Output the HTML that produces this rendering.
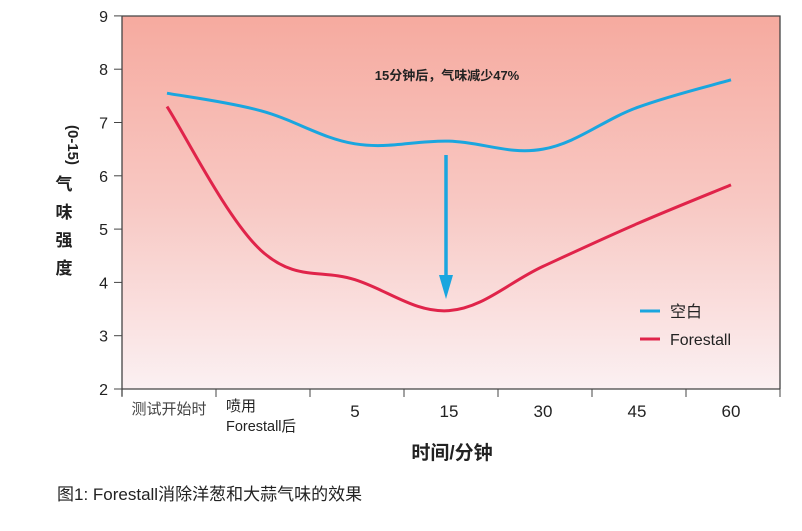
<!DOCTYPE html>
<html><head><meta charset="utf-8"><style>
body{margin:0;background:#fff;width:802px;height:526px;overflow:hidden;font-family:"Liberation Sans","Noto Sans CJK SC",sans-serif;}
</style></head><body>
<svg width="802" height="526" xmlns="http://www.w3.org/2000/svg" font-family="Liberation Sans, Noto Sans CJK SC, sans-serif">
<defs><linearGradient id="bg" x1="0" y1="0" x2="0" y2="1"><stop offset="0" stop-color="#f6aa9f"/><stop offset="0.5" stop-color="#f8c8c3"/><stop offset="1" stop-color="#fbf0f2"/></linearGradient></defs>
<rect x="122" y="16" width="658" height="373" fill="url(#bg)"/>
<g id="axes"></g>
<g id="series"></g>
<text x="447" y="80" font-size="13" font-weight="bold" text-anchor="middle" fill="#222">15分钟后，气味减少47%</text>
<g>
<line x1="446" y1="155" x2="446" y2="285" stroke="#1aa6df" stroke-width="3.5"/>
<polygon points="439,275 453,275 446,299" fill="#1aa6df"/>
</g>
<g>
<line x1="640" y1="311" x2="660" y2="311" stroke="#1aa6df" stroke-width="3"/>
<text x="670" y="317" font-size="16" fill="#222">空白</text>
<line x1="640" y1="339" x2="660" y2="339" stroke="#e0244a" stroke-width="3"/>
<text x="670" y="345" font-size="16" fill="#222" textLength="61" lengthAdjust="spacingAndGlyphs">Forestall</text>
</g>
<g font-size="17" font-weight="bold" fill="#222" text-anchor="middle">
<text x="68" y="145" transform="rotate(90 68 145)" font-size="15">(0-15)</text>
<text x="64" y="190">气</text><text x="64" y="218">味</text><text x="64" y="246">强</text><text x="64" y="274">度</text>
</g>
<text x="452" y="459" font-size="19" font-weight="bold" text-anchor="middle" fill="#222">时间/分钟</text>
<text x="57" y="500" font-size="17" fill="#222">图1: Forestall消除洋葱和大蒜气味的效果</text>
</svg>
<script>
const categories=["测试开始时","喷用Forestall后","5","15","30","45","60"];
const yTicks=[2,3,4,5,6,7,8,9];
const blankValues=[7.55,7.22,6.6,6.65,6.5,7.28,7.8];
const forestallValues=[7.3,4.6,4.05,3.47,4.3,5.1,5.83];
const X0=122,BW=94,Y0=389,YS=53.3;
const xs=i=>X0+BW*(i+0.5)-2;
const ys=v=>Y0-(v-2)*YS;
const NS="http://www.w3.org/2000/svg";
const ax=document.getElementById('axes');
function mk(t,a,p){const e=document.createElementNS(NS,t);for(const k in a)e.setAttribute(k,a[k]);p.appendChild(e);return e;}
const frame=mk('path',{d:`M${X0} 16H780V389M${X0} 16V396M${X0} 389H780`,fill:'none',stroke:'#444','stroke-width':1.3},ax);


yTicks.forEach(v=>{
 const l=mk('line',{x1:X0-8,x2:X0,y1:ys(v),y2:ys(v),stroke:'#444'},ax);
 
 
 const t=mk('text',{x:X0-14,y:ys(v)+6,'font-size':16,'text-anchor':'end',fill:'#222'},ax);
 t.textContent=v;
 
 
});
for(let i=0;i<=categories.length;i++){
 const l=mk('line',{x1:X0+BW*i,x2:X0+BW*i,y1:389,y2:397,stroke:'#444'},ax);
 
 
}
categories.forEach((c,i)=>{
 const cx=X0+BW*(i+0.5);
 let t;
 if(i===1){
  t=mk('text',{x:X0+BW+10,y:411,'font-size':15,fill:'#222'},ax);
  t.textContent='喷用';
  const t2=mk('text',{x:X0+BW+10,y:431,'font-size':15,fill:'#222',textLength:70,lengthAdjust:'spacingAndGlyphs'},ax);
  t2.textContent='Forestall后';
  
  
 } else if(i===0){
  t=mk('text',{x:cx,y:414,'font-size':15,'text-anchor':'middle',fill:'#444'},ax);
  t.textContent=c;
 } else {
  t=mk('text',{x:cx-2,y:417,'font-size':17,'text-anchor':'middle',fill:'#222'},ax);
  t.textContent=c;
 }
 
 
});
function smooth(vals){
 const p=vals.map((v,i)=>[xs(i),ys(v)]);
 let d=`M${p[0][0]},${p[0][1]}`;
 for(let i=0;i<p.length-1;i++){
  const a=p[Math.max(i-1,0)],b=p[i],c=p[i+1],e=p[Math.min(i+2,p.length-1)];
  const t=0.18;
  d+=` C${b[0]+(c[0]-a[0])*t},${b[1]+(c[1]-a[1])*t} ${c[0]-(e[0]-b[0])*t},${c[1]-(e[1]-b[1])*t} ${c[0]},${c[1]}`;
 }
 return d;
}
const sg=document.getElementById('series');
const bl=mk('path',{d:smooth(blankValues),fill:'none',stroke:'#1aa6df','stroke-width':3},sg);


const rl=mk('path',{d:smooth(forestallValues),fill:'none',stroke:'#e0244a','stroke-width':3},sg);


</script>
</body></html>
